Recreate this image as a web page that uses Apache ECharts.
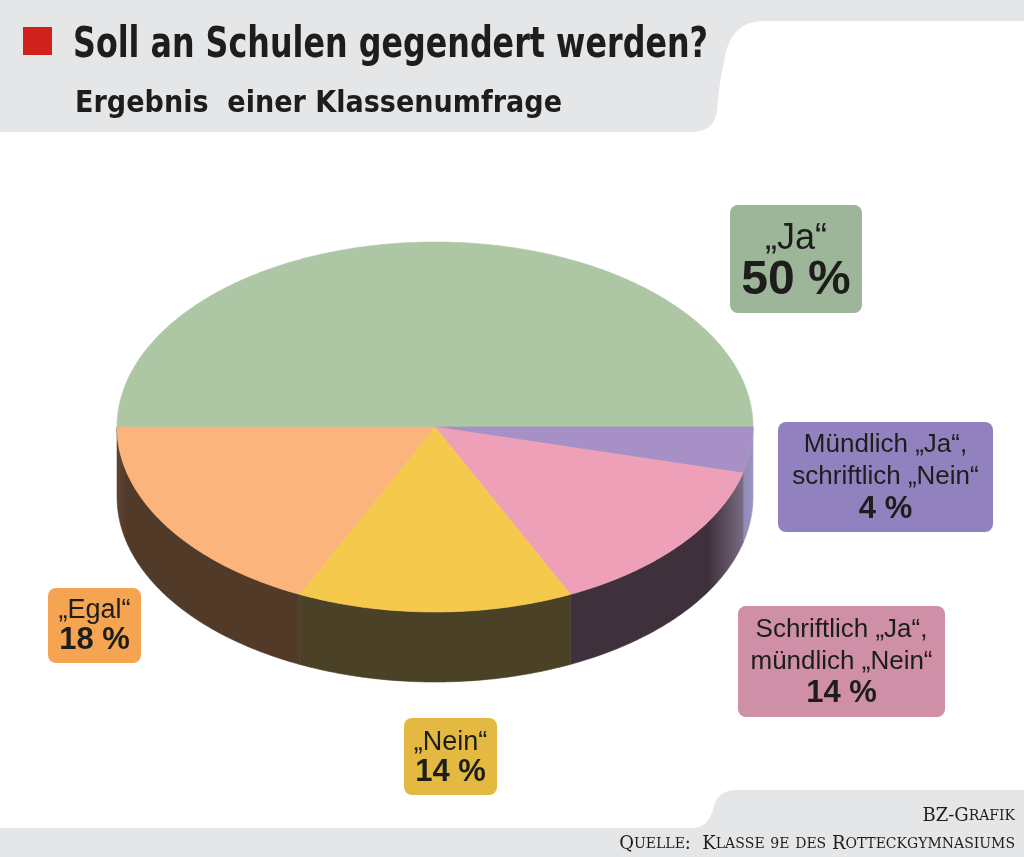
<!DOCTYPE html>
<html><head><meta charset="utf-8">
<script src="https://cdn.jsdelivr.net/npm/echarts@6/dist/echarts.min.js"></script>
<style>html,body{margin:0;padding:0;background:#fff}#c{width:1024px;height:857px}</style>
</head><body><div id="c"></div><script>
// ---- data ----
const titleText = 'Soll an Schulen gegendert werden?';
const subtitleText = 'Ergebnis  einer Klassenumfrage';
const sourceLine1 = 'BZ-Grafik';
const sourceLine2 = 'Quelle:  Klasse 9e des Rotteckgymnasiums';
const categories = ['„Ja“', 'Mündlich „Ja“,\nschriftlich „Nein“', 'Schriftlich „Ja“,\nmündlich „Nein“', '„Nein“', '„Egal“'];
const values = [50, 4, 14, 14, 18];

// ---- styles / layout ----
const topColors = ['#adc6a4', '#a690c6', '#eea0b8', '#f5c94b', '#fbb47c'];
const sideColors = ['#4a5a44', '#6d6690', '#3f313c', '#4a4127', '#523a28'];
const sideLight = ['#7a8a74', '#9a94c0', '#8a7c98', '#4a4127', '#5e4432'];
const boxColors = ['#9db598', '#9182bf', '#cf8fa7', '#e3b941', '#f5a552'];
// box: [left, top, width, height, nameSize, valueSize, nameLineHeight, valueLineHeight, dy]
const boxLayout = [
  [730, 205, 132, 108, 36, 48, 38, 46, 3],
  [778, 422, 215, 110, 26, 31, 32, 32, 0],
  [738, 606, 207, 111, 26, 31, 32, 32, 0],
  [404, 718, 93, 77, 27, 31, 30, 30, 1],
  [48, 588, 93, 75, 27, 31, 30, 30, 0]
];
const CX = 435, CY = 427, RX = 318, RY = 185, DEPTH = 70;
const total = values.reduce((a, b) => a + b, 0);

function renderSlice(params, api) {
  const i = params.dataIndex;
  let acc = 0;
  for (let k = 0; k < i; k++) acc += values[k];
  const v = api.value(0);
  const t1 = Math.PI + acc / total * 2 * Math.PI;
  const t2 = Math.PI + (acc + v) / total * 2 * Math.PI;
  const pt = (t, dy) => [CX + RX * Math.cos(t), CY + RY * Math.sin(t) + (dy || 0)];
  const children = [];
  const a = Math.max(t1, 2 * Math.PI), b = Math.min(t2, 3 * Math.PI);
  if (b > a) {
    const M = Math.max(2, Math.ceil((b - a) / 0.01));
    const side = [];
    for (let s = 0; s <= M; s++) side.push(pt(a + (b - a) * s / M));
    for (let s = M; s >= 0; s--) side.push(pt(a + (b - a) * s / M, DEPTH));
    const grad = new echarts.graphic.LinearGradient(0, 0, 1, 0, [
      {offset: 0, color: sideLight[i]},
      {offset: 0.015, color: sideColors[i]},
      {offset: 0.93, color: sideColors[i]},
      {offset: 1, color: sideLight[i]}
    ], true);
    grad.x = CX - RX; grad.y = 0; grad.x2 = CX + RX; grad.y2 = 0;
    children.push({type: 'polygon', shape: {points: side}, style: {fill: grad, stroke: grad, lineWidth: 0.6}});
  }
  const N = Math.max(2, Math.ceil((t2 - t1) / 0.01));
  const top = [[CX, CY]];
  for (let s = 0; s <= N; s++) top.push(pt(t1 + (t2 - t1) * s / N));
  children.push({type: 'polygon', shape: {points: top}, style: {fill: topColors[i], stroke: topColors[i], lineWidth: 0.6}});
  return {type: 'group', children};
}

function smallCaps(str) {
  let out = '';
  for (const ch of str) {
    if (/[a-zäöü0-9]/.test(ch)) out += '{s|' + ch.toUpperCase() + '}';
    else out += '{b|' + ch + '}';
  }
  return out;
}

// build a polygon outline from line / cubic segments
function outline(start, segs) {
  const pts = [start];
  let cur = start;
  segs.forEach(sg => {
    if (sg.length === 1) { pts.push(sg[0]); cur = sg[0]; }
    else {
      const [p1, p2, p3] = sg;
      for (let s = 1; s <= 16; s++) {
        const u = s / 16, m = 1 - u;
        pts.push([
          m*m*m*cur[0] + 3*m*m*u*p1[0] + 3*m*u*u*p2[0] + u*u*u*p3[0],
          m*m*m*cur[1] + 3*m*m*u*p1[1] + 3*m*u*u*p2[1] + u*u*u*p3[1]
        ]);
      }
      cur = p3;
    }
  });
  return pts;
}
const headerPts = outline([0, 0], [[[1024, 0]], [[1024, 21]], [[764, 21]], [[740, 21], [730, 36], [726, 52]], [[720, 82]], [[717, 110]], [[715, 126], [706, 132], [690, 132]], [[0, 132]]]);
const footerPts = outline([0, 857], [[[0, 828]], [[692, 828]], [[706, 828], [711, 818], [714, 806]], [[717, 795], [724, 790], [738, 790]], [[1024, 790]], [[1024, 857]]]);

const titleFont = "'DejaVu Sans Condensed', 'DejaVu Sans', sans-serif";
const serifFont = "'DejaVu Serif', 'Liberation Serif', serif";
const measureCtx = document.createElement('canvas').getContext('2d');
function textWidth(txt, font) { measureCtx.font = font; return measureCtx.measureText(txt).width; }
const titleSize = 42, subSize = 30;
const titleScale = 635 / textWidth(titleText, 'bold ' + titleSize + 'px ' + titleFont);
const subScale = 487 / textWidth(subtitleText, 'bold ' + subSize + 'px ' + titleFont);

const labelFont = "'Liberation Sans', Arial, sans-serif";
const boxGraphics = categories.map((name, i) => {
  const [l, t, w, h, ns, vs, nlh, vlh, dy] = boxLayout[i];
  const lines = name.split('\n').map(s => '{n|' + s + '}');
  lines.push('{v|' + values[i] + ' %}');
  return {
    type: 'group', x: l, y: t,
    children: [
      {type: 'rect', shape: {x: 0, y: 0, width: w, height: h, r: 8}, style: {fill: boxColors[i]}},
      {type: 'text', x: w / 2, y: h / 2 + dy, style: {
        text: lines.join('\n'), align: 'center', verticalAlign: 'middle',
        rich: {
          n: {fontFamily: labelFont, fontSize: ns, lineHeight: nlh, fill: '#1d1d1b', align: 'center'},
          v: {fontFamily: labelFont, fontSize: vs, fontWeight: 'bold', lineHeight: vlh, fill: '#1d1d1b', align: 'center'}
        }
      }}
    ]
  };
});

const chart = echarts.init(document.getElementById('c'), null, {renderer: 'canvas'});
chart.setOption({
  animation: false,
  backgroundColor: '#ffffff',
  graphic: [
    {type: 'polygon', z: 0, shape: {points: headerPts}, style: {fill: '#e5e6e8'}},
    {type: 'polygon', z: 0, shape: {points: footerPts}, style: {fill: '#e5e6e8'}},
    {type: 'rect', z: 1, shape: {x: 23, y: 27, width: 29, height: 28}, style: {fill: '#d0221c'}},
    {type: 'text', z: 1, x: 73, y: 25, scaleX: titleScale, style: {text: titleText, fontFamily: titleFont, fontWeight: 'bold', fontSize: titleSize, fill: '#1d1d1b', verticalAlign: 'top'}},
    {type: 'text', z: 1, x: 75, y: 89, scaleX: subScale, style: {text: subtitleText, fontFamily: titleFont, fontWeight: 'bold', fontSize: subSize, fill: '#1d1d1b', verticalAlign: 'top'}},
    {type: 'text', z: 1, x: 1015, y: 825, style: {text: smallCaps(sourceLine1), align: 'right', verticalAlign: 'bottom',
      rich: {b: {fontFamily: serifFont, fontSize: 18, fill: '#1d1d1b'}, s: {fontFamily: serifFont, fontSize: 14, fill: '#1d1d1b'}}}},
    {type: 'text', z: 1, x: 1015, y: 853, style: {text: smallCaps(sourceLine2), align: 'right', verticalAlign: 'bottom',
      rich: {b: {fontFamily: serifFont, fontSize: 18, fill: '#1d1d1b'}, s: {fontFamily: serifFont, fontSize: 14, fill: '#1d1d1b'}}}},
    ...boxGraphics
  ],
  series: [{
    type: 'custom',
    coordinateSystem: 'none',
    renderItem: renderSlice,
    data: values.map(v => [v]),
    silent: true
  }]
});
</script></body></html>
